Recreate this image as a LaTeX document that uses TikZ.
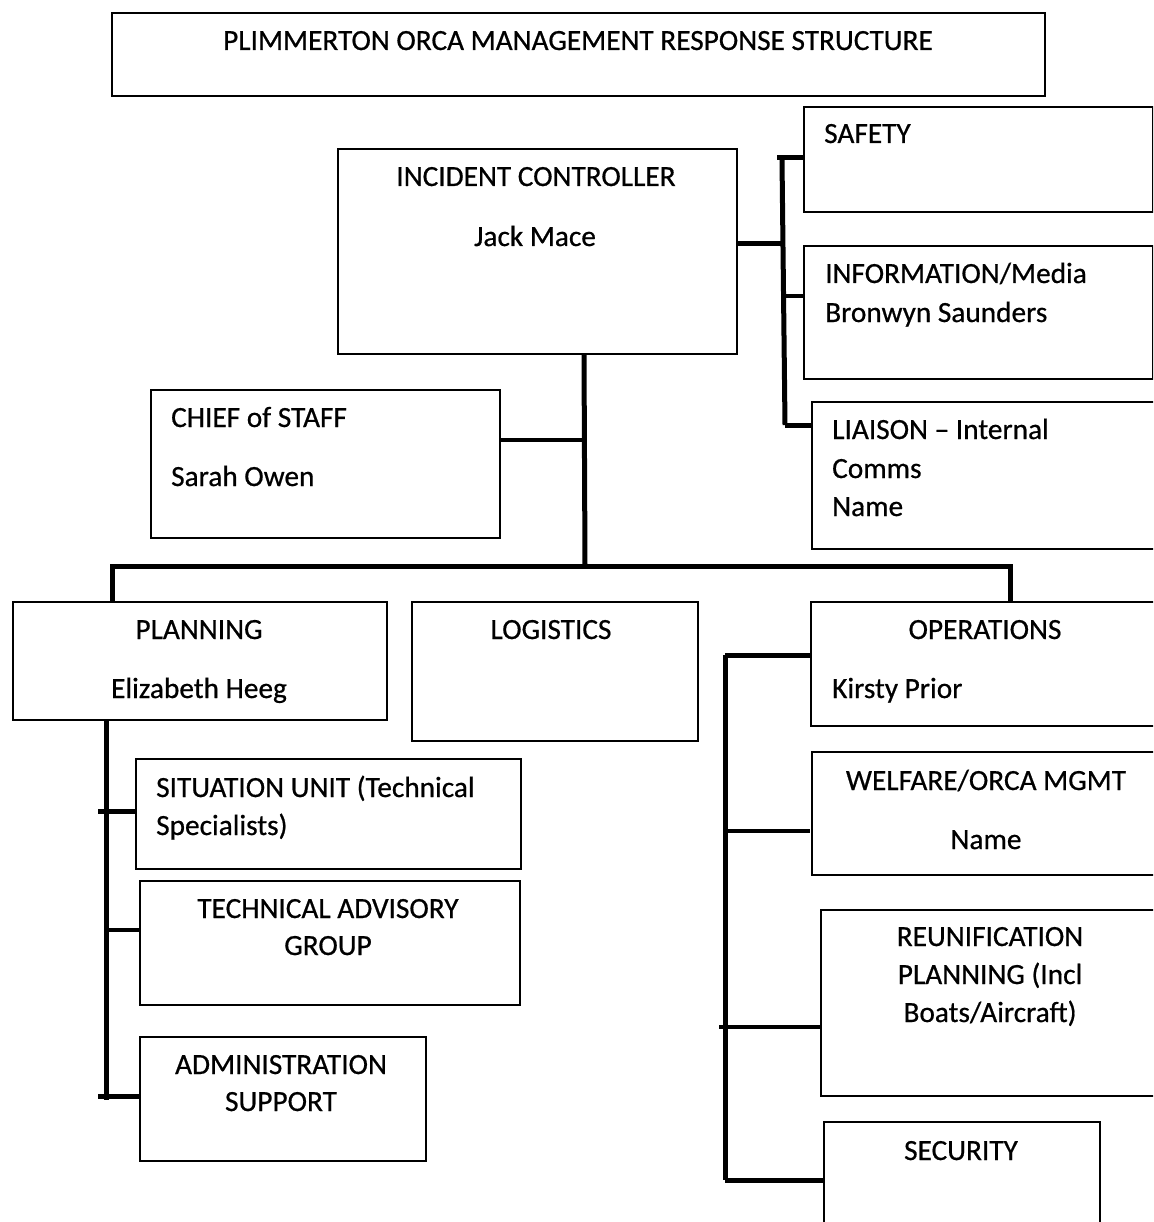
\documentclass[tikz,border=0pt]{standalone}
\usepackage{fontspec}
\setmainfont{Carlito}[FakeBold=0.6]
\begin{document}
\begin{tikzpicture}[x=1pt,y=-1pt,
  box/.style={draw=black,line width=2pt,inner sep=0pt,anchor=north west,fill=none},
  txt/.style={font=\fontsize{29.3}{38}\selectfont,inner sep=0pt,text=black},
  thk/.style={line width=5pt},
  thn/.style={line width=4pt}]
\useasboundingbox (0,0) rectangle (1153,1222);
\clip (0,0) rectangle (1153,1222);
\fill[white] (0,0) rectangle (1153,1222);
% boxes
\node[box,minimum width=933,minimum height=83] (title) at (111,12) {};
\node[box,minimum width=399,minimum height=205] (ic) at (337,148) {};
\node[box,minimum width=349,minimum height=105] (safety) at (803,106) {};
\node[box,minimum width=349,minimum height=133] (info) at (803,245) {};
\node[box,minimum width=345,minimum height=147] (liaison) at (811,401) {};
\node[box,minimum width=349,minimum height=148] (chief) at (150,389) {};
\node[box,minimum width=374,minimum height=118] (planning) at (12,601) {};
\node[box,minimum width=286,minimum height=139] (logistics) at (411,601) {};
\node[box,minimum width=346,minimum height=124] (ops) at (810,601) {};
\node[box,minimum width=345,minimum height=123] (welfare) at (811,751) {};
\node[box,minimum width=336,minimum height=186] (reun) at (820,909) {};
\node[box,minimum width=276,minimum height=120] (security) at (823,1121) {};
\node[box,minimum width=385,minimum height=110] (situation) at (135,758) {};
\node[box,minimum width=380,minimum height=124] (tag) at (139,880) {};
\node[box,minimum width=286,minimum height=124] (admin) at (139,1036) {};
% texts
\node[txt,anchor=base] (t-title) at (578,50) {PLIMMERTON ORCA MANAGEMENT RESPONSE STRUCTURE};
\node[txt,anchor=base] (t-ic1) at (536,186) {INCIDENT CONTROLLER};
\node[txt,anchor=base] (t-ic2) at (535,246) {Jack Mace};
\node[txt,anchor=base west] (t-saf) at (824,143) {SAFETY};
\node[txt,anchor=base west] (t-inf1) at (825,283) {INFORMATION/Media};
\node[txt,anchor=base west] (t-inf2) at (825,322) {Bronwyn Saunders};
\node[txt,anchor=base west] (t-li1) at (832,439) {LIAISON – Internal};
\node[txt,anchor=base west] (t-li2) at (832,478) {Comms};
\node[txt,anchor=base west] (t-li3) at (832,516) {Name};
\node[txt,anchor=base west] (t-ch1) at (171,427) {CHIEF of STAFF};
\node[txt,anchor=base west] (t-ch2) at (171,486) {Sarah Owen};
\node[txt,anchor=base] (t-pl1) at (199,639) {PLANNING};
\node[txt,anchor=base] (t-pl2) at (199,698) {Elizabeth Heeg};
\node[txt,anchor=base] (t-lo) at (551,639) {LOGISTICS};
\node[txt,anchor=base] (t-op1) at (985,639) {OPERATIONS};
\node[txt,anchor=base west] (t-op2) at (832,698) {Kirsty Prior};
\node[txt,anchor=base] (t-we1) at (986,790) {WELFARE/ORCA MGMT};
\node[txt,anchor=base] (t-we2) at (986,849) {Name};
\node[txt,anchor=base] (t-re1) at (990,946) {REUNIFICATION};
\node[txt,anchor=base] (t-re2) at (990,984) {PLANNING (Incl};
\node[txt,anchor=base] (t-re3) at (990,1022) {Boats/Aircraft)};
\node[txt,anchor=base] (t-se) at (961,1160) {SECURITY};
\node[txt,anchor=base west] (t-si1) at (156,797) {SITUATION UNIT (Technical};
\node[txt,anchor=base west] (t-si2) at (156,835) {Specialists)};
\node[txt,anchor=base] (t-ta1) at (328,918) {TECHNICAL ADVISORY};
\node[txt,anchor=base] (t-ta2) at (328,955) {GROUP};
\node[txt,anchor=base] (t-ad1) at (281,1074) {ADMINISTRATION};
\node[txt,anchor=base] (t-ad2) at (281,1111) {SUPPORT};
% connector coordinates
\coordinate (r0) at (777,158);
\coordinate (r1) at (782,160);
\coordinate (r2) at (782,244);
\coordinate (r3) at (785,296);
\coordinate (r4) at (785,425);
\coordinate (c0) at (584,440);
\coordinate (c1) at (585,566);
\coordinate (bl) at (112,566);
\coordinate (br) at (1010,566);
\coordinate (p0) at (106,1100);
\coordinate (o0) at (725,655);
\coordinate (o1) at (725,1180);
% right bracket
\draw[thk] (r0) -- (r0 -| safety.west);
\draw[thk] (r1) -- (r4);
\draw[thk] (ic.east |- r2) -- (r2);
\draw[thn] (r3) -- (r3 -| info.west);
\draw[thk] (r4) -- (r4 -| liaison.west);
% central trunk
\draw[thk] (ic.south -| c0) -- (c1);
\draw[thn] (chief.east |- c0) -- (c0);
\draw[thk] (bl |- planning.north) -- (bl) -- (br) -- (br |- ops.north);
% planning bracket
\draw[thk] (p0 |- planning.south) -- (p0);
\draw[thk] (98,811) -- (situation.west |- 0,811);
\draw[thn] (106,930) -- (tag.west |- 0,930);
\draw[thk] (98,1096) -- (admin.west |- 0,1096);
% operations bracket
\draw[thk] (o0) -- (o1);
\draw[thk] (o0) -- (o0 -| ops.west);
\draw[thn] (728,831) -- (ops.west |- 0,831);
\draw[thn] (719,1027) -- (reun.west |- 0,1027);
\draw[thk] (o1) -- (o1 -| security.west);
\end{tikzpicture}
\end{document}
